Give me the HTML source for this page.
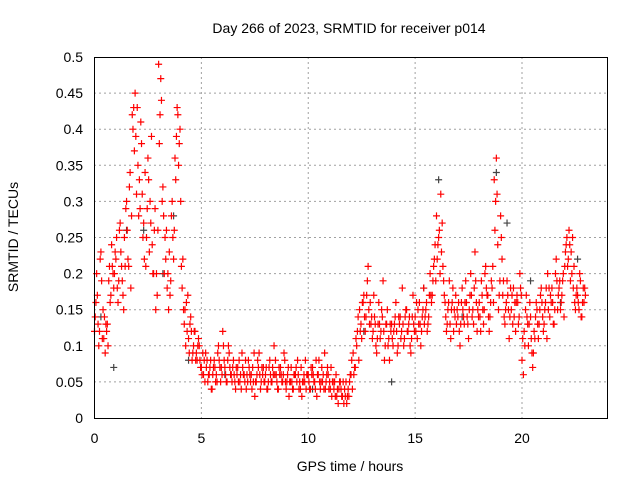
<!DOCTYPE html>
<html><head><meta charset="utf-8"><style>
body{margin:0;background:#fff}
svg{display:block;font-family:"Liberation Sans",sans-serif}
</style></head><body>
<svg id="chart" width="640" height="480">
<text x="349" y="33" font-size="14" text-anchor="middle">Day 266 of 2023, SRMTID for receiver p014</text>
<text x="18" y="237" font-size="14" text-anchor="middle" transform="rotate(-90 18 237)">SRMTID / TECUs</text>
<text x="350" y="471" font-size="14" text-anchor="middle">GPS time / hours</text>
<g id="grid"></g>
<g id="ticks"></g>
<g id="points"></g>
<rect x="94.5" y="57.5" width="513" height="361" fill="none" stroke="#000"/>
</svg>
<script>
const xTicks=[0,5,10,15,20];
const yTicks=[0,0.05,0.1,0.15,0.2,0.25,0.3,0.35,0.4,0.45,0.5];
const yTickLabels=["0","0.05","0.1","0.15","0.2","0.25","0.3","0.35","0.4","0.45","0.5"];
const seriesA=[0.12,0.2,0.1,0.23,0.15,0.09,0.13,0.21,0.24,0.18,
0.22,0.16,0.27,0.19,0.25,0.3,0.21,0.18,0.4,0.45,
0.43,0.33,0.38,0.27,0.21,0.36,0.3,0.24,0.26,0.2,
0.49,0.47,0.32,0.25,0.18,0.23,0.28,0.22,0.33,0.42,
0.4,0.18,0.13,0.16,0.11,0.14,0.09,0.12,0.08,0.1,
0.07,0.06,0.09,0.05,0.07,0.04,0.08,0.06,0.1,0.05,
0.12,0.07,0.05,0.09,0.06,0.08,0.04,0.07,0.05,0.09,
0.06,0.04,0.08,0.05,0.07,0.03,0.06,0.09,0.05,0.07,
0.06,0.04,0.08,0.05,0.1,0.06,0.04,0.07,0.05,0.08,
0.05,0.03,0.07,0.04,0.06,0.08,0.05,0.03,0.06,0.04,
0.06,0.04,0.07,0.05,0.03,0.08,0.05,0.06,0.04,0.07,
0.05,0.03,0.04,0.06,0.02,0.05,0.03,0.04,0.02,0.03,
0.06,0.09,0.07,0.12,0.15,0.11,0.17,0.14,0.21,0.16,
0.11,0.14,0.09,0.16,0.12,0.19,0.1,0.15,0.08,0.13,
0.12,0.16,0.1,0.14,0.18,0.11,0.15,0.13,0.09,0.17,
0.14,0.11,0.16,0.12,0.18,0.15,0.13,0.2,0.17,0.22,
0.28,0.25,0.31,0.21,0.16,0.13,0.19,0.15,0.12,0.17,
0.14,0.1,0.18,0.13,0.16,0.11,0.2,0.15,0.23,0.12,
0.16,0.19,0.13,0.21,0.17,0.14,0.18,0.33,0.36,0.15,
0.28,0.17,0.13,0.19,0.11,0.15,0.18,0.12,0.16,0.2,
0.08,0.12,0.17,0.1,0.14,0.07,0.11,0.15,0.13,0.18,
0.12,0.16,0.2,0.14,0.18,0.13,0.22,0.17,0.15,0.19,
0.21,0.25,0.26,0.23,0.18,0.15,0.17,0.2,0.14,0.16];
const seriesB=[0.16,0.13,0.22,0.11,0.14,0.12,0.19,0.17,0.2,0.23,
0.18,0.26,0.21,0.15,0.29,0.22,0.34,0.42,0.37,0.31,
0.28,0.41,0.25,0.34,0.29,0.23,0.39,0.2,0.15,0.26,
0.42,0.3,0.2,0.26,0.15,0.19,0.25,0.36,0.43,0.38,
0.21,0.15,0.1,0.17,0.13,0.08,0.12,0.09,0.11,0.07,
0.09,0.05,0.08,0.06,0.04,0.07,0.05,0.09,0.07,0.06,
0.08,0.05,0.1,0.06,0.07,0.05,0.06,0.08,0.04,0.06,
0.08,0.05,0.06,0.04,0.09,0.05,0.07,0.04,0.06,0.05,
0.04,0.07,0.05,0.06,0.08,0.04,0.06,0.05,0.09,0.04,
0.07,0.05,0.04,0.06,0.05,0.04,0.07,0.05,0.08,0.06,
0.04,0.06,0.05,0.08,0.06,0.04,0.05,0.09,0.06,0.04,
0.07,0.05,0.03,0.04,0.05,0.03,0.02,0.05,0.04,0.06,
0.04,0.07,0.1,0.08,0.13,0.16,0.12,0.19,0.13,0.14,
0.17,0.1,0.13,0.11,0.14,0.08,0.13,0.11,0.12,0.1,
0.14,0.09,0.13,0.12,0.1,0.15,0.12,0.1,0.14,0.12,
0.16,0.13,0.1,0.15,0.14,0.12,0.17,0.16,0.21,0.19,
0.24,0.2,0.27,0.17,0.12,0.16,0.11,0.18,0.14,0.15,
0.12,0.16,0.14,0.19,0.13,0.17,0.14,0.18,0.16,0.14,
0.12,0.15,0.2,0.17,0.12,0.19,0.16,0.3,0.24,0.19,
0.22,0.14,0.16,0.15,0.18,0.13,0.16,0.17,0.14,0.17,
0.06,0.15,0.13,0.16,0.09,0.12,0.16,0.11,0.17,0.14,
0.15,0.11,0.18,0.16,0.13,0.2,0.15,0.19,0.17,0.14,
0.24,0.22,0.19,0.25,0.16,0.18,0.15,0.14,0.18,0.17];
const seriesC=[0.14,0.17,0.12,0.19,0.11,0.13,0.1,0.16,0.21,0.2,
0.25,0.19,0.23,0.17,0.21,0.26,0.32,0.28,0.43,0.39,
0.35,0.29,0.31,0.22,0.25,0.33,0.27,0.2,0.29,0.17,
0.38,0.44,0.28,0.22,0.2,0.17,0.3,0.26,0.39,0.35,
0.3,0.22,0.15,0.12,0.09,0.12,0.1,0.08,0.1,0.08,
0.06,0.08,0.07,0.06,0.08,0.06,0.07,0.05,0.08,0.07,
0.1,0.06,0.08,0.07,0.05,0.06,0.07,0.05,0.06,0.07,
0.05,0.06,0.07,0.06,0.05,0.05,0.08,0.06,0.07,0.05,
0.07,0.05,0.06,0.07,0.06,0.05,0.07,0.06,0.06,0.05,
0.06,0.05,0.05,0.06,0.07,0.06,0.04,0.05,0.05,0.06,
0.05,0.07,0.06,0.04,0.06,0.05,0.07,0.04,0.05,0.06,
0.04,0.05,0.05,0.03,0.04,0.04,0.05,0.03,0.03,0.05,
0.08,0.06,0.11,0.14,0.12,0.16,0.14,0.17,0.15,0.13,
0.12,0.13,0.11,0.13,0.15,0.12,0.13,0.1,0.13,0.11,
0.13,0.12,0.14,0.11,0.13,0.14,0.12,0.14,0.11,0.13,
0.12,0.15,0.13,0.14,0.13,0.16,0.14,0.17,0.19,0.24,
0.22,0.26,0.23,0.19,0.14,0.15,0.13,0.16,0.15,0.13,
0.16,0.13,0.15,0.16,0.14,0.15,0.17,0.13,0.19,0.15,
0.14,0.17,0.15,0.18,0.14,0.16,0.21,0.26,0.31,0.17,
0.25,0.19,0.15,0.17,0.14,0.17,0.14,0.16,0.13,0.18,
0.11,0.1,0.14,0.13,0.11,0.09,0.14,0.13,0.15,0.16,
0.13,0.18,0.15,0.17,0.16,0.15,0.19,0.18,0.16,0.2,
0.23,0.21,0.24,0.2,0.21,0.17,0.16,0.19,0.16,0.18];
const greyTimes=[0.3,0.9,1.5,2.3,3.2,3.7,4.4,6.1,8.3,10.2,12.6,13.9,15.4,16.1,17.2,18.8,19.3,20.4,21.8,22.6];
const greyValues=[0.14,0.07,0.26,0.26,0.2,0.28,0.08,0.06,0.05,0.04,0.12,0.05,0.18,0.33,0.14,0.34,0.27,0.19,0.16,0.22];
const X0=94.5,Y0=418,PX=21.375,PY=722;
const xs=t=>X0+t*PX, ys=v=>Y0-v*PY;
const NS='http://www.w3.org/2000/svg';
function mk(tag,attrs,parent){const e=document.createElementNS(NS,tag);for(const k in attrs)e.setAttribute(k,attrs[k]);parent.appendChild(e);return e;}
const grid=document.getElementById('grid'),ticks=document.getElementById('ticks'),pts=document.getElementById('points');
xTicks.forEach(t=>{const x=xs(t);
 if(t>0){const g=mk('line',{x1:x,x2:x,y1:57,y2:418,stroke:'#a0a0a0','stroke-dasharray':'2,3'},grid);
 
 }
 const l=mk('text',{x:x,y:443,'font-size':14,'text-anchor':'middle'},ticks);l.textContent=t;
 
 
});
yTicks.forEach((v,i)=>{const y=ys(v);
 if(i>0&&i<yTicks.length-1){const g=mk('line',{x1:94,x2:607,y1:y,y2:y,stroke:'#a0a0a0','stroke-dasharray':'2,3'},grid);
 
 }
 const l=mk('text',{x:83,y:y+5,'font-size':14,'text-anchor':'end'},ticks);l.textContent=yTickLabels[i];
 
 
});
function plus(t,v,col){const x=xs(t),y=ys(v);
 const p=mk('path',{d:`M${x-3.5},${y}h7M${x},${y-3.5}v7`,stroke:col,'stroke-width':1.2,fill:'none'},pts);
 
 
}
greyTimes.forEach((t,i)=>plus(t,greyValues[i],'#444'));
seriesA.forEach((v,i)=>plus(i*0.1,v,'#ff0000'));
seriesC.forEach((v,i)=>plus(i*0.1+0.033,v,'#ff0000'));
seriesB.forEach((v,i)=>plus(i*0.1+0.066,v,'#ff0000'));
</script>
</body></html>
